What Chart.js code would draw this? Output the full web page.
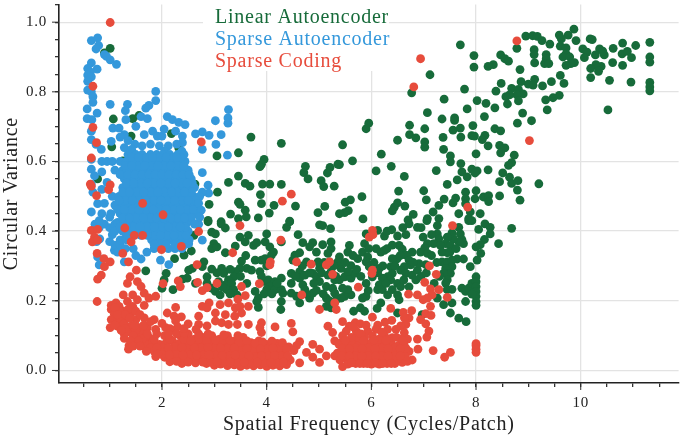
<!DOCTYPE html>
<html>
<head>
<meta charset="utf-8">
<style>
  html, body { margin: 0; padding: 0; background: #fff; overflow: hidden; }
  #chart { display: block; }
</style>
<script src="https://cdn.jsdelivr.net/npm/chart.js@4"></script>
</head>
<body>
<canvas id="chart" width="683" height="437"></canvas>
<script>
// values, [frequency, variance]
const linearPoints = [
  [9.87,.98],[9.76,.963],[9.59,.963],[9.63,.952],[8.95,.96],[9.08,.961],[9.17,.959],[9.26,.947],[9.41,.937],[9.91,.947],
  [10.18,.952],[10.22,.95],[10.8,.94],[11.05,.933],[11.32,.942],[10.62,.925],[10.36,.923],[10.04,.923],[9.61,.931],[9.72,.926],
  [9.11,.921],[9.11,.907],[9.34,.907],[9.34,.895],[9.72,.909],[9.66,.9],[9.79,.9],[10.12,.914],[10.07,.898],[10.28,.906],
  [10.45,.906],[10.42,.917],[10.79,.909],[10.89,.916],[10.97,.898],[11.32,.9],[11.32,.885],[10.8,.876],[10.61,.884],[10.39,.873],
  [10.29,.878],[10.19,.867],[10.34,.859],[9.88,.884],[9.81,.881],[9.72,.876],[9.12,.883],[9.31,.881],[9.39,.881],[8.78,.925],
  [8.84,.864],[8.47,.906],[8.55,.895],[8.62,.888],[8.33,.878],[8.23,.873],[7.96,.904],[7.96,.871],[7.7,.935],[7.12,.849],
  [10.19,.841],[10.55,.833],[10.96,.828],[11.32,.827],[11.32,.814],[11.32,.803],[10.52,.748],[9.61,.847],[9.44,.829],[9.68,.824],
  [9.27,.817],[9.12,.836],[9.09,.819],[9,.822],[8.86,.829],[8.48,.824],[8.38,.802],[8.68,.81],[8.81,.807],[8.9,.794],
  [8.78,.791],[8.64,.791],[8.57,.786],[8.81,.774],[8.6,.765],[8.36,.754],[8.19,.767],[8.02,.775],[7.78,.808],[7.39,.779],
  [6.77,.797],[9.59,.79],[9.47,.783],[9.33,.777],[9.36,.748],[9.06,.717],[8.89,.739],[8.79,.71],[8.16,.729],[7.83,.751],
  [7.07,.74],[7.59,.725],[7.59,.718],[7.35,.722],[6.73,.704],[7.02,.694],[7.94,.703],[7.7,.696],[7.56,.69],[7.71,.67],
  [7.37,.669],[6.73,.677],[6.85,.668],[6.5,.661],[7.02,.656],[7.02,.641],[5.95,.71],[5.9,.694],[5.45,.648],[8.36,.694],
  [8.47,.688],[7.92,.674],[7.97,.673],[8.17,.675],[8.12,.663],[8.23,.645],[8.45,.646],[8.55,.639],[8.47,.625],[7.38,.635],
  [7.51,.616],[7.51,.599],[6.19,.621],[5.64,.602],[5.39,.591],[8,.622],[8.73,.618],[8.68,.597],[8.62,.589],[7.71,.594],
  [6.38,.586],[6.09,.573],[7.24,.574],[7.92,.578],[8.02,.573],[7.73,.57],[8.23,.576],[7.98,.567],[7.83,.556],[8.51,.567],
  [8.64,.555],[6.63,.557],[7.64,.547],[7.45,.534],[8.45,.542],[8.68,.537],[8.8,.545],[9.2,.536],[6.52,.515],[7,.516],
  [8,.516],[7.8,.512],[8.79,.518],[5.82,.499],[8.45,.501],[5.6,.49],[5.5,.483],[7.05,.49],[7.39,.492],[7.61,.495],
  [7.8,.493],[7.98,.493],[8.14,.498],[8.24,.502],[8.24,.485],[8.84,.489],[6.5,.481],[6.44,.469],[6.4,.458],[6.64,.472],
  [7.56,.481],[7.29,.474],[7.8,.479],[5.56,.459],[5.49,.453],[5.39,.45],[6.8,.448],[7.18,.455],[7.67,.45],[7.89,.455],
  [8.08,.45],[5.84,.435],[6.7,.432],[7.07,.436],[7.29,.436],[7.86,.436],
  [8.68,.408],[8.43,.364],[8.17,.421],[8.27,.411],[8.27,.392],[8.05,.405],[8.16,.376],[8.08,.361],[8,.355],[8.09,.336],
  [8.02,.317],[7.89,.298],[7.76,.32],[7.64,.32],[7.86,.43],[7.92,.43],[7.67,.411],[7.7,.392],[7.73,.376],[7.76,.364],
  [7.67,.369],[7.57,.378],[7.54,.395],[7.45,.383],[7.42,.364],[7.51,.359],[7.45,.338],[7.26,.392],[7.29,.378],[7.19,.364],
  [7.32,.359],[7.07,.364],[6.99,.383],[7.02,.352],[6.94,.34],[7.07,.336],[6.78,.34],[6.88,.411],[6.72,.421],[7.26,.416],
  [7.06,.43],[6.66,.39],[6.5,.386],[6.53,.359],[6.59,.348],[6.49,.32],[6.66,.331],[6.72,.317],[6.75,.303],[6.63,.298],
  [6.56,.288],[6.66,.279],[6.78,.274],[6.88,.288],[7.04,.304],[6.91,.307],[7.35,.312],[7.45,.312],[7.54,.317],[7.54,.298],
  [7.42,.293],[7.51,.279],[7.38,.279],[7.45,.26],[7.42,.251],[7.54,.233],[7.45,.232],[7.26,.208],[7.38,.189],[7.54,.194],
  [7.51,.165],[7.67,.15],[7.81,.14],[7.73,.236],[7.8,.227],[7.86,.236],[7.92,.25],[8,.269],[8,.255],[8,.241],
  [8,.227],[8,.213],[8,.198],[8,.187],[7.92,.219],[7.8,.198],
  [6.12,.402],[6.25,.386],[6.39,.404],[5.9,.392],[6.09,.35],[6.18,.34],[6.25,.345],[6.3,.35],[5.87,.364],[5.58,.359],
  [5.55,.34],[5.83,.34],[5.74,.321],[5.93,.326],[5.9,.312],[5.61,.301],[5.96,.298],[6.15,.293],[6.37,.298],[6.4,.321],
  [6.4,.279],[6.31,.269],[6.21,.265],[6.37,.26],[6.5,.25],[6.56,.241],[6.15,.246],[6.12,.232],[6.21,.232],[6.31,.217],
  [6.4,.232],[6.53,.203],[6.5,.217],[6.18,.194],[6.11,.178],[5.94,.229],[5.9,.213],[5.83,.208],[5.61,.217],[5.49,.213],
  [5.42,.208],[5.55,.232],[5.45,.236],[5.39,.26],[5.49,.269],[5.61,.265],[5.68,.279],[5.55,.284],[5.42,.293],[5.39,.326],
  [6.02,.269],[5.79,.18],[5.66,.17],[5.87,.17],[6.5,.165],[6.97,.16],
  [1.69,.286],[2.08,.279],[2.04,.26],[2,.236],[2.21,.232],[2.24,.321],[2.42,.331],[2.56,.343],[2.61,.388],[2.88,.427],
  [3.13,.421],[3.21,.409],[2.95,.397],[3.02,.392],[2.99,.364],[2.95,.35],[3.05,.355],[3.21,.338],[3.4,.357],[3.49,.383],
  [3.65,.388],[3.59,.369],[3.75,.359],[3.81,.367],[4,.392],[3.97,.369],[4.06,.355],[4.13,.34],[4.09,.331],[4.28,.369],
  [4.38,.411],[4.44,.427],[4.6,.39],[4.69,.367],[4.88,.367],[4.82,.355],[4.95,.34],[5.01,.418],[5.07,.416],[5.22,.407],
  [5.07,.361],[5.23,.369],[5.23,.35],[5.17,.336],[4.63,.338],[4.54,.331],[4.5,.317],[3.78,.317],[3.9,.317],[3.97,.321],
  [3.52,.314],[3.62,.293],[3.49,.293],[3.4,.284],[3.37,.269],[3.71,.288],[3.87,.284],[2.8,.312],[2.77,.298],[2.95,.291],
  [3.14,.293],[3.18,.279],[2.51,.288],[2.58,.293],[2.48,.265],[2.39,.262],[2.64,.25],[2.86,.269],[2.86,.25],[3.08,.255],
  [3.27,.26],[3.21,.246],[3.33,.25],[2.95,.236],[3.02,.227],[3.11,.217],[3.24,.232],[3.37,.232],[3.43,.217],[3.78,.227],
  [3.84,.208],[3.81,.198],[3.84,.181],[3.97,.255],[4.03,.26],[4.16,.255],[4.28,.265],[4.06,.241],[4,.232],[4.16,.232],
  [4.28,.232],[4.31,.222],[4.28,.198],[4.27,.175],[4.47,.279],[4.47,.25],[4.63,.284],[4.63,.265],[4.73,.274],[4.69,.246],
  [4.88,.279],[4.95,.269],[5.01,.293],[5.01,.255],[5.17,.274],[5.23,.284],[5.3,.26],[5.14,.241],[5.26,.236],[4.47,.222],
  [4.57,.213],[4.63,.194],[4.82,.208],[4.88,.222],[4.73,.232],[5.14,.208],[5.14,.184],[5.23,.18],[5.33,.203],[5.3,.222],
  [5.36,.312],[4.76,.312],[4.98,.312],[5.2,.312],
  [1.01,.925],[.9,.912],[1.07,.722],[1.44,.723],[1.56,.732],[1.04,.642],[2.18,.68],[2.32,.639],[1.41,.673],[3.7,.67],
  [4.28,.652],[3.05,.616],[3.46,.625],[3.95,.606],[3.9,.592],[3.87,.585],[4.74,.586],[4.71,.568],[4.79,.55],[5.21,.583],
  [5.16,.567],[5.36,.592],[3.46,.558],[3.59,.537],[3.68,.529],[3.27,.54],[3.92,.535],[4.06,.535],[4.28,.534],[5.04,.545],
  [5.09,.528],[5.29,.529],[3.06,.512],[3.88,.505],[3.9,.479],[4.14,.474],[4.55,.472],[5.11,.471],[2.9,.477],[3.46,.483],
  [3.49,.477],[3.59,.46],[4.05,.452],[3.31,.449],[3.61,.441],[3.46,.436],[3.84,.438],[4.44,.429],[4.98,.453],[2.88,.431],
  [3.13,.427],[2.63,.535],[1.25,.602],[.77,.55],
  [4.55,.27],[4.68,.3],[4.82,.28],[4.9,.25],[5.05,.28],[5.1,.31],[5.28,.3],[5.32,.27],[4.75,.22],[4.95,.23],
  [5.08,.22],[5.2,.2],[5.5,.31],[5.65,.33],[5.72,.29],[5.8,.27],[5.9,.25],[5.95,.35],[6.05,.31],[6.12,.28],
  [6.22,.3],[6.28,.25],[6.45,.3],[6.55,.33],[6.62,.26],[6.72,.24],[6.8,.31],[6.85,.26],[6.95,.27],[7.05,.28],
  [7.15,.33],[7.25,.31],[7.3,.27],[7.2,.25],[7.35,.34],[7.5,.34],[7.62,.35],[7.15,.39],[6.95,.41],[6.4,.36],
  [6.3,.4],[6.6,.41],[3.3,.29],[3.5,.27],[3.05,.28],[3.15,.24],[3.3,.22],[3.62,.25],[3.95,.22],[4.1,.22],
  [4.2,.25],[3.9,.27],[3.6,.33],[4,.3]
];
const sparseAePoints = [
  [.65,.947],[.77,.955],[.79,.933],[.74,.923],[.9,.907],[.94,.902],[1.01,.892],[1.13,.879],[.65,.883],[.58,.867],
  [.76,.865],[.63,.857],[.58,.848],[.65,.843],[.58,.83],[.58,.805],[.65,.8],[.68,.786],[.68,.77],[1.01,.764],
  [.57,.751],[.76,.739],[.57,.723],[.66,.72],[1.88,.801],[1.88,.775],[1.34,.764],[1.3,.746],[1.31,.72],[1.75,.761],
  [1.69,.753],[1.6,.729],[1.72,.723],[2.1,.729],[2.2,.72],[2.32,.712],[2.44,.706],[3.27,.749],[3.26,.725],[3.26,.71],
  [3.02,.717],[2.77,.685],[2.64,.679],[2.9,.675],[3.13,.677],[3.03,.649],[2.77,.635],[3.25,.618],[2.77,.568],[2.88,.532],
  [2.89,.509],[2.77,.512],[.65,.687],[.65,.663],[.74,.649],[.84,.635],[.65,.606],[.65,.578],[.71,.559],[.65,.535],
  [.68,.512],[.77,.479],[.65,.455],[1.03,.658],[1.06,.696],[1.18,.696],[1.28,.677],[1.5,.701],[1.66,.677],[1.82,.687],
  [1.91,.673],[2.04,.693],[2.26,.687],[2.39,.673],[2.39,.654],[2,.673],[1.2,.67],[1.35,.66],[1.48,.65],[1.62,.645],
  [1.78,.65],[1.95,.645],[2.12,.645],[2.28,.65],[1.28,.64],[1.42,.635],[2.05,.63],[2.38,.63],
  [.8,.303],[.77,.326],[1.09,.345],[1.28,.312],[1.6,.32],[1.71,.34],[1.97,.317],[2.13,.304],[2.77,.374],[2.51,.364],
  [2.64,.421],[.81,.378],[.72,.42],[.8,.41],[.9,.42],[1,.41],[1.1,.42],[.75,.37],[1,.37],[1.05,.39],
  [1.1,.36],[1.15,.34],[1.2,.36],[1.3,.38],[1.3,.35],[1.45,.35],[1.5,.33],[.85,.6],[.95,.6],[1.05,.6],
  [.85,.57],[.95,.54],[.85,.52],[1.05,.5],[.9,.48],[.85,.45],[1,.44],[.8,.43],[2.7,.42],[2.6,.46],
  [1.35,.62],[1.5,.62],[1.62,.62],[1.78,.62],[1.9,.62],[2.02,.62],[2.15,.62],[2.3,.62],[2.42,.62],
  [1.2,.6],[1.32,.6],[1.45,.6],[1.6,.6],[1.72,.6],[1.85,.6],[1.98,.6],[2.1,.6],[2.25,.6],[2.38,.6],[2.44,.6],
  [1.1,.575],[1.25,.575],[1.4,.575],[1.52,.575],[1.65,.575],[1.78,.575],[1.92,.575],[2.05,.575],[2.18,.575],[2.3,.575],[2.42,.575],[2.5,.575],
  [1.28,.55],[1.42,.55],[1.55,.55],[1.68,.55],[1.8,.55],[1.93,.55],[2.07,.55],[2.2,.55],[2.33,.55],[2.46,.55],[2.56,.55],
  [1.25,.525],[1.38,.525],[1.5,.525],[1.63,.525],[1.76,.525],[1.9,.525],[2.03,.525],[2.16,.525],[2.28,.525],[2.42,.525],[2.54,.525],[2.62,.525],
  [1.18,.5],[1.32,.5],[1.45,.5],[1.58,.5],[1.7,.5],[1.84,.5],[1.97,.5],[2.1,.5],[2.23,.5],[2.36,.5],[2.5,.5],[2.6,.5],[2.72,.5],
  [1.1,.475],[1.25,.475],[1.38,.475],[1.5,.475],[1.65,.475],[1.78,.475],[1.9,.475],[2.04,.475],[2.17,.475],[2.3,.475],[2.44,.475],[2.58,.475],[2.68,.475],
  [1.02,.45],[1.2,.45],[1.32,.45],[1.46,.45],[1.6,.45],[1.72,.45],[1.86,.45],[2,.45],[2.12,.45],[2.26,.45],[2.4,.45],[2.52,.45],[2.66,.45],
  [1.15,.425],[1.3,.425],[1.42,.425],[1.55,.425],[1.68,.425],[1.82,.425],[1.95,.425],[2.08,.425],[2.22,.425],[2.34,.425],[2.48,.425],
  [1.1,.4],[1.25,.4],[1.38,.4],[1.5,.4],[1.64,.4],[1.78,.4],[1.9,.4],[2.03,.4],[2.16,.4],[2.3,.4],[2.42,.4],[2.5,.4],
  [1.2,.375],[1.32,.375],[1.8,.375],[1.92,.375],[2.05,.375],[2.18,.375],[2.3,.375],[2.42,.375],[2.52,.375],
  [1.85,.35],[1.98,.35],[2.12,.35],[2.25,.35],[2.38,.35],
  [1.42,.612],[1.7,.612],[1.95,.612],[2.2,.612],[2.36,.612],
  [1.3,.588],[1.55,.588],[1.8,.588],[2.04,.588],[2.3,.588],
  [1.32,.538],[1.6,.538],[1.85,.538],[2.12,.538],[2.38,.538],[2.58,.538],
  [1.25,.512],[1.52,.512],[1.78,.512],[2.05,.512],[2.3,.512],[2.56,.512],
  [1.3,.488],[1.56,.488],[1.85,.488],[2.1,.488],[2.38,.488],[2.64,.488],
  [1.15,.462],[1.42,.462],[1.7,.462],[1.95,.462],[2.22,.462],[2.48,.462],
  [1.25,.438],[1.5,.438],[1.78,.438],[2.03,.438],[2.3,.438],[2.56,.438],
  [1.2,.412],[1.45,.412],[1.72,.412],[2,.412],[2.25,.412],[2.45,.412],
  [1.35,.388],[1.6,.388],[1.85,.388],[2.1,.388],[2.36,.388],[1.95,.362],[2.25,.362],[2.45,.362],
  [1.55,.612],[1.82,.612],[2.08,.612],[2.28,.612],
  [1.42,.588],[1.67,.588],[1.92,.588],[2.17,.588],[2.42,.588],
  [1.2,.562],[1.35,.562],[1.48,.562],[1.62,.562],[1.75,.562],[1.87,.562],[2,.562],[2.13,.562],[2.27,.562],[2.4,.562],[2.52,.562],
  [1.46,.538],[1.72,.538],[1.98,.538],[2.25,.538],[2.48,.538],
  [1.38,.512],[1.65,.512],[1.92,.512],[2.18,.512],[2.43,.512],
  [1.18,.488],[1.43,.488],[1.7,.488],[1.98,.488],[2.24,.488],[2.5,.488],
  [1.28,.462],[1.56,.462],[1.83,.462],[2.08,.462],[2.35,.462],[2.6,.462],
  [1.38,.438],[1.64,.438],[1.9,.438],[2.16,.438],[2.43,.438],
  [1.32,.412],[1.58,.412],[1.85,.412],[2.12,.412],[2.35,.412],
  [1.47,.388],[1.72,.388],[1.97,.388],[2.23,.388],[2.46,.388],
  [1.85,.362],[2.08,.362],[2.35,.362],[2.7,.48],[2.75,.46],[2.72,.44],[2.62,.42]
];
const sparseCodingPoints = [
  [6.94,.895],[6.81,.814],[8.78,.946],[9.02,.66],[7.84,.469],[1.01,.999],[.68,.816],[.68,.698],[.75,.654],[.65,.61],
  [.63,.535],[.65,.529],[1.01,.533],[.98,.519],[.75,.502],[1.63,.48],[2.02,.447],[2.75,.656],[4.3,.486],[4.47,.506],
  [6.02,.402],[5.96,.383],[6.03,.39],[6.02,.288],[6.01,.279],[7.55,.416],[7.11,.3],[7.24,.276],[7.02,.253],[5.75,.239],
  [6.71,.219],[6.88,.217],[7.13,.234],[7.29,.232],[7.45,.21],[7.16,.217],[7.07,.208],[6.99,.203],[7.13,.184],[7.04,.163],
  [7.14,.158],[6.77,.172],[6.61,.167],[6.37,.178],[6.72,.151],[6.63,.151],[6.02,.153],[6.94,.146],[7.04,.134],[5.45,.14],
  [6.39,.144],[6.26,.139],[5.69,.137],[5.79,.134],[5.58,.127],[6.12,.13],[6.66,.132],[6.56,.128],[7.1,.113],[7.06,.096],
  [6.88,.09],[6.89,.061],[7.18,.057],[7.51,.052],[7.4,.038],[8,.077],[8,.071],[8,.061],[8,.052],
  [5.52,.113],[5.45,.1],[5.71,.113],[5.93,.113],[6.09,.118],[6.31,.118],[6.47,.118],[6.63,.109],[6.25,.099],[6.4,.094],
  [6.56,.09],[6.69,.09],[6.02,.099],[5.87,.094],[5.71,.09],[5.55,.085],[5.42,.08],[5.45,.011],[6.78,.03],[6.69,.026],[6.59,.023],
  [.65,.402],[.77,.405],[.71,.383],[.67,.369],[.77,.374],[1.29,.409],[1.47,.388],[1.63,.388],[1.41,.369],[2.7,.399],
  [3.49,.416],[4.27,.374],[1.99,.347],[2.37,.356],[3.35,.338],[.76,.336],[1.25,.336],[.89,.321],[1.01,.312],[1.36,.312],
  [.9,.298],[.84,.274],[.77,.262],[1.51,.288],[1.39,.269],[1.34,.25],[1.53,.255],[1.6,.241],[1.66,.222],[2.02,.249],
  [2.31,.257],[2.35,.241],[2.67,.304],[2.68,.253],[3.05,.25],[2.77,.229],[2.86,.238],[3.52,.241],[3.86,.249],[4.07,.312],
  [4.06,.303],[4.57,.312],[4.85,.305],[5.14,.303],[5.2,.312],[5.26,.276],[4.67,.217],[3.59,.215],[3.45,.205],[5.01,.175],
  [5.3,.194],[5.33,.175],[.76,.198],[1.03,.187],[1.12,.194],[1.26,.217],[1.44,.217],[1.34,.198],[1.53,.203],[1.75,.208],
  [1.88,.213],[1.66,.187],[1.03,.175],[1.18,.184],[1.44,.184],[1.09,.161],[1.25,.17],[1.41,.165],[1.03,.146],[1.15,.142],
  [1.34,.151],[1.5,.146],[1.66,.151],[1.85,.146],[1.01,.123],[1.15,.127],[1.41,.127],[1.56,.123],[1.72,.123],[1.28,.104],
  [1.44,.109],[1.28,.092],[1.56,.099],[1.37,.071],[1.36,.061],[1.63,.071],[1.5,.08],[1.75,.094],[1.88,.118],[2.07,.123],
  [2.26,.181],[2.1,.165],[2.23,.156],[2.37,.154],[2.26,.142],[2.5,.134],[2.7,.156],[2.77,.184],[2.9,.194],[2.86,.18],
  [2.7,.132],[2.86,.128],[3.02,.165],[3.11,.189],[3.27,.194],[3.21,.16],[3.02,.142],[3.14,.137],[3.27,.132],[3.4,.18],
  [3.49,.184],[3.65,.184],[3.39,.156],[3.52,.165],[3.44,.132],[3.65,.132],[3.9,.137],[3.87,.123],[3.9,.109],[4.16,.125],
  [4.47,.135],[4.5,.111],[4.63,.083],[4.57,.071],[4.52,.057],[4.76,.052],[4.88,.075],[4.63,.022],[5.01,.061],[4.88,.038],
  [5.01,.023],[5.14,.042],[5.3,.085],[5.26,.109],[5.17,.127],[5.3,.042],
  [1.9,.105],[2.05,.1],[2.22,.115],[2.35,.1],[2.5,.105],[2.62,.09],[2.78,.095],[2.95,.1],[3.1,.09],[3.25,.1],[3.4,.085],[3.55,.095],[3.7,.08],[3.85,.085],[4,.075],
  [1.7,.075],[1.82,.08],[1.95,.075],[2.08,.08],[2.2,.085],[2.33,.078],[2.46,.075],[2.58,.07],[2.7,.078],[2.82,.075],[2.95,.08],[3.08,.072],[3.2,.078],[3.33,.075],[3.46,.07],[3.58,.075],[3.7,.065],[3.82,.07],[3.95,.07],[4.08,.075],[4.2,.078],[4.32,.07],[4.42,.068],
  [1.85,.055],[1.98,.058],[2.1,.052],[2.22,.06],[2.35,.055],[2.47,.052],[2.6,.055],[2.72,.05],[2.85,.058],[2.98,.052],[3.1,.055],[3.23,.05],[3.35,.056],[3.48,.05],[3.6,.052],[3.72,.048],[3.85,.052],[3.98,.05],[4.1,.055],[4.22,.05],[4.35,.055],
  [1.88,.04],[2.05,.038],[2.2,.035],[2.32,.04],[2.45,.03],[2.58,.035],[2.7,.032],[2.82,.036],[2.95,.03],[3.08,.035],[3.2,.03],[3.32,.036],[3.45,.03],[3.58,.034],[3.7,.03],[3.82,.035],[3.95,.03],[4.08,.034],[4.2,.03],[4.32,.035],[4.45,.03],
  [2.38,.02],[2.85,.02],[3,.015],[3.12,.018],[3.25,.014],[3.38,.016],[3.5,.012],[3.62,.015],[3.75,.013],[3.88,.016],[4,.012],[4.12,.015],[4.25,.013],[4.38,.017],
  [5.38,.075],[5.5,.07],[5.62,.078],[5.75,.072],[5.88,.076],[6,.08],[6.12,.075],[6.25,.072],[6.38,.078],[6.5,.07],[6.62,.075],
  [5.35,.05],[5.47,.055],[5.6,.05],[5.72,.055],[5.85,.05],[5.97,.056],[6.1,.05],[6.22,.054],[6.35,.05],[6.47,.055],[6.6,.05],[6.72,.055],
  [5.4,.03],[5.52,.034],[5.65,.03],[5.78,.033],[5.9,.028],[6.02,.034],[6.15,.03],[6.28,.032],[6.4,.028],[6.52,.034],[6.65,.03],
  [5.55,.018],[5.7,.02],[5.85,.02],[6,.018],[6.15,.018],[6.3,.02],[6.45,.02],
  [1.78,.065],[2,.066],[2.25,.068],[2.5,.064],[2.75,.066],[3,.065],[3.25,.064],[3.5,.062],[3.75,.06],[4,.062],[4.25,.064],
  [2,.046],[2.28,.046],[2.53,.044],[2.78,.044],[3.03,.044],[3.28,.042],[3.53,.042],[3.78,.04],[4.03,.042],[4.28,.042],
  [2.15,.09],[2.42,.09],[2.7,.09],[3.15,.085],[3.47,.08],[3.78,.078],
  [2.15,.025],[2.64,.022],[2.92,.024],[3.18,.024],[3.44,.022],[3.7,.022],[3.95,.022],[4.2,.022],
  [1.7,.1],[1.85,.09],[1.6,.11],[2,.135],[2.15,.12],[2.3,.125],
  [5.44,.062],[5.7,.064],[5.94,.064],[6.2,.064],[6.44,.064],[6.66,.064],[5.44,.042],[5.7,.042],[5.94,.042],[6.2,.042],[6.45,.042],[6.65,.04],
  [5.62,.095],[5.8,.105],[6.15,.09],[6.33,.09],[6.48,.095],[5.65,.125],[5.9,.13],[6.2,.11],
  [1.1,.13],[1.2,.15],[1.28,.135],[1.22,.17],[1.35,.175],[1.5,.17],[1.58,.16],[1.33,.11],[1.5,.115],[1.65,.13],[1.78,.14],
  [2.55,.085],[2.85,.085],[3.02,.088],[3.3,.086],[3.62,.085],[3.92,.082],[4.1,.084],[4.3,.08],
  [1.9,.065],[2.12,.065],[2.38,.066],[2.62,.064],[2.88,.066],[3.12,.064],[3.38,.064],[3.62,.063],[3.88,.062],[4.12,.064],[4.38,.062],
  [1.92,.047],[2.14,.045],[2.4,.044],[2.66,.044],[2.9,.045],[3.15,.043],[3.4,.044],[3.66,.042],[3.9,.042],[4.15,.043],[4.4,.042],
  [2.28,.026],[2.5,.024],[2.78,.024],[3.05,.025],[3.3,.024],[3.57,.024],[3.82,.024],[4.08,.023],[4.32,.024],
  [2.12,.105],[2.28,.105],[2.42,.108],[2.7,.105],[2.88,.105],[3.18,.102],[3.45,.1],[2.42,.12],[2.65,.118],
  [5.5,.086],[5.85,.086],[6.05,.088],[6.28,.086],[6.6,.086],
  [5.58,.062],[5.82,.063],[6.07,.062],[6.32,.062],[6.55,.062],[5.58,.041],[5.82,.041],[6.08,.042],[6.32,.041],[6.55,.042],
  [5.62,.022],[5.78,.02],[5.92,.02],[6.08,.021],[6.22,.02],[6.38,.02],
  [1.1,.18],[1.15,.16],[1.3,.16],[1.38,.15],[1.48,.13],[1.3,.12],[1.22,.115],[1.45,.1],[1.62,.09],[1.55,.085],
  [1.72,.105],[1.4,.085],[1.45,.07],[1.58,.07],[1.7,.055]
];
const xTickValues = [.5,1,1.5,2,2.5,3,3.5,4,4.5,5,5.5,6,6.5,7,7.5,8,8.5,9,9.5,10,10.5,11,11.5];
const yTickValues = [0,.05,.1,.15,.2,.25,.3,.35,.4,.45,.5,.55,.6,.65,.7,.75,.8,.85,.9,.95,1,1.05];
const xMajor = [2,4,6,8,10];
const yMajor = [0,.2,.4,.6,.8,1];

const green = '#176b3a';
const blue = '#3498db';
const red = '#e74c3c';
const serif = '"Liberation Serif", serif';

function toXY(list) {
    return list.map(p => ({ x: p[0], y: p[1] }));
}

function isMajor(value, majors) {
    return majors.some(m => Math.abs(m - value) < 1e-6);
}

// chart.js would leave room for the last tick labels, which are empty here
function noOverhang(scale) {
    scale.paddingLeft = 0;
    scale.paddingRight = 0;
    scale.paddingTop = 0;
    scale.paddingBottom = 0;
}

// the reference type is wider than Liberation Serif
const wideText = {
    id: 'wideText',
    beforeDraw(chart) {
        chart.ctx.letterSpacing = '0.75px';
    }
};

// white box with coloured text only, no swatches
const textLegend = {
    id: 'textLegend',
    afterDatasetsDraw(chart) {
        const ctx = chart.ctx;
        ctx.save();
        ctx.fillStyle = '#fff';
        ctx.fillRect(203, 3, 186, 68);
        ctx.font = '20px ' + serif;
        ctx.textBaseline = 'middle';
        chart.data.datasets.forEach((d, i) => {
            ctx.fillStyle = d.backgroundColor;
            ctx.fillText(d.label, 215, 18 + i * 21.7);
        });
        ctx.restore();
    }
};

// major ticks are a bit longer than the minor ones
const longTicks = {
    id: 'longTicks',
    afterDraw(chart) {
        const ctx = chart.ctx;
        const a = chart.chartArea;
        ctx.save();
        ctx.strokeStyle = '#333';
        ctx.lineWidth = 1;
        xMajor.forEach(v => {
            const px = chart.scales.x.getPixelForValue(v);
            ctx.beginPath();
            ctx.moveTo(px, a.bottom);
            ctx.lineTo(px, a.bottom + 7);
            ctx.stroke();
        });
        yMajor.forEach(v => {
            const py = chart.scales.y.getPixelForValue(v);
            ctx.beginPath();
            ctx.moveTo(a.left, py);
            ctx.lineTo(a.left - 7, py);
            ctx.stroke();
        });
        ctx.restore();
    }
};

new Chart(document.getElementById('chart'), {
    type: 'scatter',
    data: {
        datasets: [
            { label: 'Linear Autoencoder', data: toXY(linearPoints), backgroundColor: green, order: 3 },
            { label: 'Sparse Autoencoder', data: toXY(sparseAePoints), backgroundColor: blue, order: 2 },
            { label: 'Sparse Coding', data: toXY(sparseCodingPoints), backgroundColor: red, order: 1 }
        ]
    },
    options: {
        responsive: false,
        animation: false,
        layout: { padding: 0 },
        elements: { point: { radius: 4.4, borderWidth: 0 } },
        plugins: { legend: { display: false }, tooltip: { enabled: false } },
        scales: {
            x: {
                type: 'linear',
                min: .032,
                max: 11.87,
                afterBuildTicks: s => { s.ticks = xTickValues.map(v => ({ value: v })); },
                afterFit: s => { s.height = 54; noOverhang(s); },
                border: { color: '#222', width: 1.6 },
                grid: {
                    color: c => isMajor(c.tick.value, xMajor) ? '#e3e3e3' : 'rgba(0,0,0,0)',
                    lineWidth: 1.3,
                    tickColor: '#333',
                    tickLength: 4
                },
                ticks: {
                    autoSkip: false,
                    maxRotation: 0,
                    padding: 7,
                    color: '#222',
                    font: { family: serif, size: 15 },
                    callback: v => isMajor(v, xMajor) ? String(v) : ''
                },
                title: {
                    display: true,
                    text: 'Spatial Frequency (Cycles/Patch)',
                    color: '#222',
                    font: { family: serif, size: 20 },
                    padding: { top: 0, bottom: 0 }
                }
            },
            y: {
                type: 'linear',
                min: -.036,
                max: 1.051,
                afterBuildTicks: s => { s.ticks = yTickValues.map(v => ({ value: v })); },
                afterFit: s => { s.width = 59; noOverhang(s); },
                border: { color: '#222', width: 1.6 },
                grid: {
                    color: c => isMajor(c.tick.value, yMajor) ? '#e3e3e3' : 'rgba(0,0,0,0)',
                    lineWidth: 1.3,
                    tickColor: '#333',
                    tickLength: 4
                },
                ticks: {
                    autoSkip: false,
                    padding: 8,
                    color: '#222',
                    font: { family: serif, size: 15 },
                    callback: v => isMajor(v, yMajor) ? v.toFixed(1) : ''
                },
                title: {
                    display: true,
                    text: 'Circular Variance',
                    color: '#222',
                    font: { family: serif, size: 20 },
                    padding: { top: 0, bottom: 0 }
                }
            }
        }
    },
    plugins: [wideText, textLegend, longTicks]
});
</script>
</body>
</html>
